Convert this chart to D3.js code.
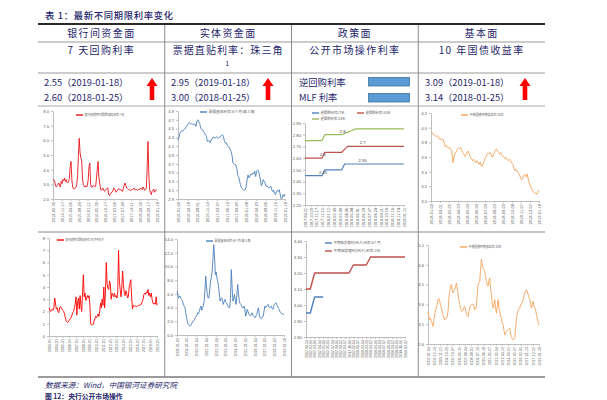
<!DOCTYPE html>
<html><head><meta charset="utf-8">
<script src="https://cdn.jsdelivr.net/npm/d3@7"></script>
<style>body{margin:0;background:#fff}svg{display:block}</style>
</head><body><svg id="c" width="607" height="400"></svg>
<script>
// ---------------- DATA ----------------
const tableTitle = "表 1：最新不同期限利率变化";
const headers1 = ["银行间资金面", "实体资金面", "政策面", "基本面"];
const headers2 = ["7 天回购利率", "票据直贴利率：珠三角", "公开市场操作利率", "10 年国债收益率"];
const headers2Wrap = ["", "1", "", ""];
const latestRates = ["2.55（2019-01-18）", "2.95（2019-01-18）", null, "3.09（2019-01-18）"];
const prevRates = ["2.60（2018-01-25）", "3.00（2018-01-25）", null, "3.14（2018-01-25）"];
const rateUp = [true, true, false, true];
const policyLabels = ["逆回购利率", "MLF 利率"];
const sourceNote = "数据来源：Wind，中国银河证券研究院";
const nextTitle = "图 12：央行公开市场操作";

// chart 1: 7-day repo (daily, recent)
const repoDates = ["2014-06-30","2014-11-17","2015-04-06","2015-08-24","2016-01-11","2016-05-30","2016-10-17","2017-03-06","2017-07-24","2017-12-11","2018-04-30","2018-09-17","2019-01-18"];
const repoTicks = [2, 3, 4, 5, 6, 7, 8];
const repoRate = [3.36,3.30,3.20,2.95,2.82,2.90,2.98,3.09,2.95,2.82,3.20,3.05,3.32,3.25,3.43,3.20,3.32,3.15,3.09,3.20,3.40,4.22,4.56,3.32,2.82,2.70,2.68,2.75,2.80,2.98,3.60,4.90,6.14,5.20,4.79,4.67,3.43,2.98,2.85,2.82,2.91,2.82,2.95,3.32,4.22,4.45,2.98,2.80,2.82,2.90,2.91,2.85,2.86,3.32,4.00,4.56,3.50,3.09,2.68,2.59,2.70,2.75,2.60,2.52,2.62,2.68,2.72,2.75,2.30,2.23,2.35,2.41,2.48,2.52,2.75,2.70,2.62,2.46,2.55,2.59,2.70,2.68,2.62,2.64,2.55,2.52,2.75,2.95,3.09,2.91,2.75,2.70,2.65,2.64,2.60,2.59,2.62,2.64,2.70,2.75,2.62,2.64,2.66,2.59,2.62,2.68,2.64,2.75,2.68,2.64,2.82,2.70,2.59,2.66,2.75,4.22,5.92,3.70,2.64,2.45,2.30,2.52,2.60,2.68,2.46,2.59,2.62,2.59];

// chart 2: bill discount rate, Pearl River Delta (recent)
const billDates = ["2016-01-04","2016-04-18","2016-08-01","2016-11-14","2017-02-27","2017-06-12","2017-09-25","2018-01-08","2018-04-23","2018-08-06","2018-11-19","2019-01-18"];
const billTicks = [2.9, 3.1, 3.3, 3.5, 3.7, 3.9, 4.1, 4.3, 4.5, 4.7, 4.9];
const billRate = [4.24,4.30,4.39,4.43,4.45,4.44,4.47,4.50,4.51,4.55,4.58,4.62,4.64,4.61,4.61,4.60,4.61,4.59,4.60,4.55,4.68,4.70,4.65,4.61,4.51,4.48,4.47,4.43,4.40,4.36,4.32,4.21,4.23,4.22,4.18,4.24,4.28,4.30,4.30,4.28,4.30,4.31,4.30,4.28,4.30,4.33,4.34,4.36,4.32,4.21,4.17,4.18,4.12,4.09,4.08,4.03,3.98,3.90,3.72,3.70,3.68,3.68,3.60,3.45,3.41,3.30,3.23,3.15,3.13,3.10,3.10,3.11,3.19,3.34,3.45,3.38,3.41,3.47,3.45,3.49,3.47,3.53,3.41,3.53,3.56,3.54,3.45,3.34,3.20,3.25,3.34,3.30,3.26,3.19,3.20,3.17,3.15,3.17,3.19,3.11,3.07,3.10,3.02,3.00,3.07,3.10,3.07,3.11,3.00,2.90,2.92,3.00,2.96,3.01];

// chart 3: reverse repo rates
const revRepoDates = ["2017-09-22","2017-10-20","2017-11-17","2017-12-15","2018-01-12","2018-02-09","2018-03-09","2018-04-06","2018-05-04","2018-06-01","2018-06-29","2018-07-27","2018-08-24","2018-09-21","2018-10-19","2018-11-16","2018-12-14","2019-01-11"];
const revRepoTicks = [2.2, 2.3, 2.4, 2.5, 2.6, 2.7, 2.8, 2.9];
const revRepoNames = ["逆回购利率:7天", "逆回购利率:14天", "逆回购利率:28天"];
const revRepo7d  = [2.45,2.45,2.45,2.45,2.45,2.45,2.45,2.50,2.50,2.50,2.50,2.50,2.50,2.50,2.55,2.55,2.55,2.55,2.55,2.55,2.55,2.55,2.55,2.55,2.55,2.55,2.55,2.55,2.55,2.55,2.55,2.55,2.55,2.55,2.55,2.55];
const revRepo14d = [2.60,2.60,2.60,2.60,2.60,2.60,2.60,2.65,2.65,2.65,2.65,2.65,2.65,2.65,2.675,2.70,2.70,2.70,2.70,2.70,2.70,2.70,2.70,2.70,2.70,2.70,2.70,2.70,2.70,2.70,2.70,2.70,2.70,2.70,2.70,2.70];
const revRepo28d = [2.75,2.75,2.75,2.75,2.75,2.75,2.75,2.80,2.80,2.80,2.80,2.80,2.80,2.80,2.81,2.82,2.83,2.84,2.85,2.85,2.85,2.85,2.85,2.85,2.85,2.85,2.85,2.85,2.85,2.85,2.85,2.85,2.85,2.85,2.85,2.85];
const revRepoLabelPoints = [[0, 6], [0, 20], [1, 6], [1, 20], [2, 13]]; // [series, point]

// chart 4: 10Y government bond yield (recent)
const bondDates = ["2018-01-02","2018-02-01","2018-03-05","2018-04-03","2018-05-04","2018-06-04","2018-07-04","2018-08-03","2018-09-03","2018-10-08","2018-11-07","2018-12-07","2019-01-18"];
const bondTicks = [3.0, 3.2, 3.4, 3.6, 3.8, 4.0, 4.2];
const bond10y = [3.95,3.93,3.92,3.90,3.89,3.88,3.89,3.87,3.84,3.85,3.83,3.84,3.80,3.74,3.76,3.73,3.72,3.73,3.70,3.69,3.52,3.60,3.65,3.67,3.70,3.72,3.71,3.73,3.70,3.66,3.64,3.61,3.63,3.66,3.68,3.64,3.60,3.58,3.55,3.57,3.54,3.52,3.55,3.53,3.50,3.53,3.48,3.47,3.52,3.56,3.59,3.63,3.65,3.64,3.66,3.64,3.60,3.62,3.66,3.70,3.71,3.68,3.66,3.64,3.66,3.62,3.61,3.60,3.58,3.59,3.56,3.55,3.57,3.55,3.52,3.50,3.45,3.41,3.43,3.41,3.38,3.36,3.32,3.29,3.30,3.35,3.36,3.33,3.37,3.31,3.25,3.21,3.17,3.14,3.12,3.10,3.11,3.09,3.12,3.15];

// chart 5: 7-day repo, monthly average (long history)
const repoMonthDates = ["2003-01","2004-01","2005-01","2006-01","2007-01","2008-01","2009-01","2010-01","2011-01","2012-01","2013-01","2014-01","2015-01","2016-01","2017-01","2018-01","2019-01"];
const repoMonthTicks = [0, 1, 2, 3, 4, 5, 6, 7, 8];
const repoMonthly = [2.3,2.1,2.0,2.1,2.2,2.1,2.3,3.1,2.6,2.2,2.3,2.0,1.9,2.3,2.4,2.3,2.2,2.1,2.0,1.8,1.5,1.2,1.15,1.1,1.2,1.3,1.4,1.5,1.7,1.9,2.0,2.3,2.6,3.2,1.7,2.8,3.1,2.2,3.3,2.4,2.0,3.5,5.0,3.2,3.5,2.9,3.1,3.3,3.1,3.3,2.5,1.0,0.9,0.95,0.95,1.2,1.4,1.6,1.5,1.6,1.8,1.6,2.0,2.7,2.3,3.0,2.5,4.0,2.3,3.5,6.0,4.3,3.9,3.8,4.5,4.2,3.0,3.5,3.4,3.2,3.5,3.2,3.3,3.1,3.6,7.0,4.5,3.8,3.2,4.0,5.3,4.2,3.5,3.3,3.7,3.5,3.1,3.2,4.0,4.3,4.6,3.2,2.2,2.5,2.5,2.4,2.45,2.4,2.45,2.5,2.45,2.5,2.6,2.6,2.8,3.0,3.4,3.5,3.4,3.6,3.5,3.8,3.3,3.5,3.2,3.5,3.0,2.7,2.6,2.7,2.6,3.2,2.5];

// chart 6: bill discount rate (long history)
const billLongDates = ["2008-01-02","2009-01-05","2010-01-04","2011-01-04","2012-01-04","2013-01-04","2014-01-02","2015-01-05","2016-01-04","2017-01-03","2018-01-02","2019-01-18"];
const billLongTicks = [0, 2, 4, 6, 8, 10, 12, 14];
const billLong = [6.39,6.0,5.42,5.6,5.67,5.3,5.18,4.9,4.46,4.2,3.97,3.2,2.52,1.9,1.55,1.4,1.31,1.35,1.55,1.8,2.03,2.1,2.28,2.6,2.76,2.9,3.24,3.1,3.49,3.9,4.21,3.6,3.97,4.3,4.94,6.5,8.57,7.0,5.91,5.4,5.42,6.6,7.85,8.4,9.3,11.0,13.17,11.5,8.81,9.2,8.33,7.8,7.12,6.0,4.94,5.3,5.42,5.0,4.46,4.9,5.18,4.8,4.7,4.4,4.21,4.0,3.97,5.5,9.54,7.0,4.94,5.3,5.91,5.0,4.46,5.8,7.36,6.0,4.94,4.6,4.46,4.2,3.97,4.0,4.21,3.8,2.76,3.2,3.73,3.4,3.0,2.9,2.76,3.0,3.24,2.9,2.76,2.6,2.52,2.8,3.0,3.6,3.97,3.0,2.52,2.45,2.42,2.6,2.76,3.5,4.21,4.0,4.21,4.3,4.46,4.1,3.97,4.1,4.21,3.9,3.73,4.2,4.46,4.6,4.7,4.4,4.21,3.9,3.73,3.4,3.24,3.1,3.1,3.05,3.0];

// chart 7: MLF rates
const mlfDates = ["2017-01-24","2017-02-16","2017-03-16","2017-04-14","2017-05-16","2017-06-15","2017-07-14","2017-08-16","2017-09-15","2017-10-17","2017-11-16","2017-12-14","2018-01-17","2018-02-14","2018-03-21","2018-04-17","2018-05-16","2018-06-19","2018-07-17","2018-08-15","2018-09-17","2018-10-16","2018-11-16","2018-12-17"];
const mlfTicks = [2.8, 2.9, 3.0, 3.1, 3.2, 3.3, 3.4];
const mlfNames = ["中期借贷便利(MLF):利率:6个月", "中期借贷便利(MLF):利率:1年"];
const mlf6m = [2.95,2.95,3.05,3.05,3.05,null,null,null,null,null,null,null,null,null,null,null,null,null,null,null,null,null,null,null];
const mlf1y = [3.10,3.10,3.20,3.20,3.20,3.20,3.20,3.20,3.20,3.20,3.20,3.25,3.25,3.25,3.25,3.30,3.30,3.30,3.30,3.30,3.30,3.30,3.30,3.30];

// chart 8: 10Y government bond yield (long history)
const bondLongDates = ["2002-01-04","2002-12-13","2003-11-21","2004-10-29","2005-10-07","2006-09-15","2007-08-24","2008-08-01","2009-07-10","2010-06-18","2011-05-27","2012-05-04","2013-04-12","2014-03-21","2015-02-27","2016-02-05","2017-01-13","2017-12-22","2019-01-18"];
const bondLongTicks = [2.6, 3.1, 3.6, 4.1, 4.6, 5.1];
const bondLong = [3.42,3.3,3.21,3.25,3.17,3.12,3.04,3.2,3.34,3.45,3.51,3.6,3.72,3.75,3.68,3.6,3.51,3.4,3.34,3.25,3.21,3.25,3.25,3.3,3.42,3.75,3.93,4.05,4.10,3.95,3.89,3.95,3.97,4.05,4.14,4.0,3.85,3.7,3.59,3.5,3.42,3.44,3.46,3.52,3.55,3.45,3.38,3.32,3.29,3.4,3.51,3.57,3.59,3.6,3.61,3.55,3.46,3.5,3.55,3.85,4.10,4.15,4.18,4.5,4.74,4.6,4.52,4.48,4.44,4.3,4.18,4.1,4.06,4.2,4.27,4.0,3.85,3.6,3.51,3.6,3.72,3.5,3.38,3.55,3.72,3.5,3.42,3.3,3.25,3.12,3.08,2.95,2.83,2.88,2.91,2.95,2.96,2.98,3.0,2.85,2.79,2.73,2.70,2.72,2.74,3.0,3.25,3.38,3.46,3.5,3.51,3.58,3.63,3.66,3.72,3.82,3.89,3.95,3.97,3.92,3.85,3.78,3.72,3.6,3.51,3.6,3.68,3.55,3.51,3.45,3.34,3.25,3.15,3.08];

// ---------------- DRAW ----------------
const svg = d3.select("#c");
svg.append("rect").attr("width", 607).attr("height", 400).attr("fill", "#fff");
const navy = "#1f1f6b";
const cjk = "'Noto Sans CJK SC', 'Noto Sans', sans-serif";
const small = "'Liberation Sans', Arial, sans-serif";

const col = d3.scaleBand().domain(d3.range(4)).range([38, 545]);
const colMid = i => col(i) + col.bandwidth() / 2;

svg.append("text").attr("x", 45).attr("y", 18.5).attr("fill", navy)
  .attr("font-family", cjk).attr("font-size", 9.3).attr("font-weight", 500)
  .style("letter-spacing", "0.7px").text(tableTitle);

// table lines
const hLines = [[42, "#9a9a9a", 1], [73, "#9a9a9a", 1], [106, "#a8a8a8", 1], [232, "#8a8a8a", 1.2], [377, "#7a7a7a", 1.5]];
hLines.forEach(([y, c, w]) => svg.append("line").attr("x1", 38).attr("x2", 545).attr("y1", y).attr("y2", y).attr("stroke", c).attr("stroke-width", w));
svg.append("line").attr("x1", 38).attr("x2", 545).attr("y1", 24).attr("y2", 24).attr("stroke", "#2a2a2a").attr("stroke-width", 2);
[1, 2, 3].forEach(i => svg.append("line").attr("x1", col(i)).attr("x2", col(i)).attr("y1", 25).attr("y2", 377).attr("stroke", "#8a8a8a").attr("stroke-width", 1));

// header rows
headers1.forEach((t, i) => svg.append("text").attr("x", colMid(i)).attr("y", 37).attr("text-anchor", "middle")
  .attr("fill", navy).attr("font-family", cjk).attr("font-size", 10).style("letter-spacing", "1.4px").text(t));
headers2.forEach((t, i) => svg.append("text").attr("x", colMid(i)).attr("y", 54).attr("text-anchor", "middle")
  .attr("fill", navy).attr("font-family", cjk).attr("font-size", 10).style("letter-spacing", i === 1 ? "1.1px" : "1.4px").text(t));
headers2Wrap.forEach((t, i) => { if (t) svg.append("text").attr("x", colMid(i) - 1).attr("y", 66).attr("text-anchor", "middle")
  .attr("fill", navy).attr("font-family", cjk).attr("font-size", 7).text(t); });

// value rows
const textX = [44, 171, 299, 425];
[latestRates, prevRates].forEach((arr, r) => arr.forEach((t, i) => {
  if (!t) return;
  svg.append("text").attr("x", textX[i]).attr("y", r === 0 ? 85.5 : 101).attr("fill", navy)
    .attr("font-family", cjk).attr("font-size", 9.3).text(t);
}));
policyLabels.forEach((t, r) => {
  svg.append("text").attr("x", textX[2]).attr("y", r === 0 ? 85.5 : 101).attr("fill", navy)
    .attr("font-family", cjk).attr("font-size", 9.3).text(t);
  svg.append("rect").attr("x", 368.5).attr("y", r === 0 ? 77.5 : 93.5).attr("width", 41).attr("height", 8.5)
    .attr("fill", "#5b9bd5").attr("stroke", "#41719c").attr("stroke-width", 0.8);
});
const arrowX = [152, 268, null, 525];
rateUp.forEach((up, i) => {
  if (!up) return;
  const cx = arrowX[i], t = 78, b = 100;
  const p = d3.path();
  p.moveTo(cx, t); p.lineTo(cx + 5.5, t + 8); p.lineTo(cx + 2.3, t + 8); p.lineTo(cx + 2.3, b);
  p.lineTo(cx - 2.3, b); p.lineTo(cx - 2.3, t + 8); p.lineTo(cx - 5.5, t + 8); p.closePath();
  svg.append("path").attr("d", p.toString()).attr("fill", "#ff0000");
});

// charts
function drawChart(c) {
  const g = svg.append("g");
  const y = d3.scaleLinear().domain(c.yDomain).range([c.bottom, c.top]);
  const xl = d3.scalePoint().domain(c.xLabels).range([c.left, c.right]);
  const n = d3.max(c.series, s => s.values.length);
  const x = d3.scaleLinear().domain([0, n - 1]).range([c.left, c.right]);

  const ya = g.append("g").attr("transform", `translate(${c.left},0)`)
    .call(d3.axisLeft(y).tickValues(c.yTicks).tickFormat(d3.format(c.fmt)).tickSize(2).tickSizeOuter(0).tickPadding(2));
  ya.select(".domain").attr("stroke", "#bfbfbf");
  ya.selectAll(".tick line").attr("stroke", "#bfbfbf");
  ya.selectAll("text").attr("font-size", 4.2).attr("font-family", small).attr("fill", "#595959");

  const xa = g.append("g").attr("transform", `translate(0,${c.bottom})`)
    .call(d3.axisBottom(xl).tickSize(2).tickSizeOuter(0));
  xa.select(".domain").attr("stroke", "#bfbfbf");
  xa.selectAll(".tick line").attr("stroke", "#bfbfbf");
  xa.selectAll("text").attr("font-size", c.xFont).attr("font-family", small).attr("fill", "#595959")
    .attr("transform", "rotate(-90)").attr("x", -3).attr("y", 0).attr("dy", "0.35em").attr("text-anchor", "end");

  const line = d3.line().defined(v => v != null).x((v, i) => x(i)).y(v => y(v));
  c.series.forEach(s => g.append("path").datum(s.values).attr("d", line).attr("fill", "none")
    .attr("stroke", s.color).attr("stroke-width", s.width || 0.9).attr("stroke-linejoin", "round"));

  c.series.forEach((s, k) => {
    const lg = c.legend[k];
    g.append("line").attr("x1", lg[0]).attr("x2", lg[0] + 7).attr("y1", lg[1]).attr("y2", lg[1])
      .attr("stroke", s.color).attr("stroke-width", 1.4);
    g.append("text").attr("x", lg[0] + 8.5).attr("y", lg[1]).attr("dy", "0.35em").attr("font-family", cjk)
      .attr("font-size", 3.6).attr("fill", "#595959").attr("textLength", lg[2]).attr("lengthAdjust", "spacingAndGlyphs").text(s.name);
  });

  if (c.pointLabels) c.pointLabels.forEach(([si, pi]) => {
    const v = c.series[si].values[pi];
    g.append("text").attr("x", x(pi) + 1).attr("y", y(v) - 2).attr("text-anchor", "middle")
      .attr("font-family", small).attr("font-size", 4.2).attr("fill", "#404040").text(String(v));
  });
}

const charts = [
  {left: 53, right: 157, top: 111, bottom: 199, yDomain: [2, 8], yTicks: repoTicks, fmt: ".1f", xLabels: repoDates, xFont: 4,
   series: [{values: repoRate, color: "#e8141b", name: "银行间质押式回购加权利率:7天"}], legend: [[76, 115, 40]]},
  {left: 178, right: 285, top: 111, bottom: 199, yDomain: [2.9, 4.9], yTicks: billTicks, fmt: ".1f", xLabels: billDates, xFont: 4,
   series: [{values: billRate, color: "#4a7ebb", name: "票据直贴利率:6个月:珠三角"}], legend: [[200, 112, 46]]},
  {left: 305, right: 404, top: 123, bottom: 205, yDomain: [2.2, 2.9], yTicks: revRepoTicks, fmt: ".2f", xLabels: revRepoDates, xFont: 3.8,
   series: [{values: revRepo7d, color: "#4f81bd", name: revRepoNames[0], width: 1.2},
            {values: revRepo14d, color: "#c0504d", name: revRepoNames[1], width: 1.2},
            {values: revRepo28d, color: "#9bbb59", name: revRepoNames[2], width: 1.2}],
   legend: [[312, 113, 24], [357, 113, 25], [312, 119, 25]], pointLabels: revRepoLabelPoints},
  {left: 431, right: 539, top: 113, bottom: 201, yDomain: [3.0, 4.2], yTicks: bondTicks, fmt: ".1f", xLabels: bondDates, xFont: 4,
   series: [{values: bond10y, color: "#f5a35a", name: "中债国债到期收益率:10年"}], legend: [[461, 115, 34]]},
  {left: 49, right: 157, top: 238, bottom: 336, yDomain: [0, 8], yTicks: repoMonthTicks, fmt: "d", xLabels: repoMonthDates, xFont: 3.6,
   series: [{values: repoMonthly, color: "#ff0000", name: "银行间质押式回购加权利率:7天(月平均):月"}], legend: [[57, 240, 38]]},
  {left: 177, right: 284, top: 239, bottom: 335, yDomain: [0, 14], yTicks: billLongTicks, fmt: ".1f", xLabels: billLongDates, xFont: 3.6,
   series: [{values: billLong, color: "#4a7ebb", name: "票据直贴利率:6个月:珠三角"}], legend: [[206, 241, 36]]},
  {left: 306, right: 405, top: 241, bottom: 337, yDomain: [2.8, 3.4], yTicks: mlfTicks, fmt: ".2f", xLabels: mlfDates, xFont: 3.5,
   series: [{values: mlf6m, color: "#4f81bd", name: mlfNames[0], width: 1.4},
            {values: mlf1y, color: "#c0504d", name: mlfNames[1], width: 1.4}],
   legend: [[325, 243, 47], [325, 251, 47]]},
  {left: 428, right: 539, top: 245, bottom: 344, yDomain: [2.6, 5.1], yTicks: bondLongTicks, fmt: ".1f", xLabels: bondLongDates, xFont: 3.6,
   series: [{values: bondLong, color: "#f5a35a", name: "中债国债到期收益率:10年"}], legend: [[460, 247, 33]]}
];
charts.forEach(drawChart);

svg.append("text").attr("x", 45).attr("y", 388).attr("fill", navy).attr("font-family", cjk)
  .attr("font-size", 7.6).attr("font-style", "italic").text(sourceNote);
svg.append("text").attr("x", 45).attr("y", 398.5).attr("fill", navy).attr("font-family", cjk)
  .attr("font-size", 6.8).attr("font-weight", 700).text(nextTitle);
</script></body></html>
